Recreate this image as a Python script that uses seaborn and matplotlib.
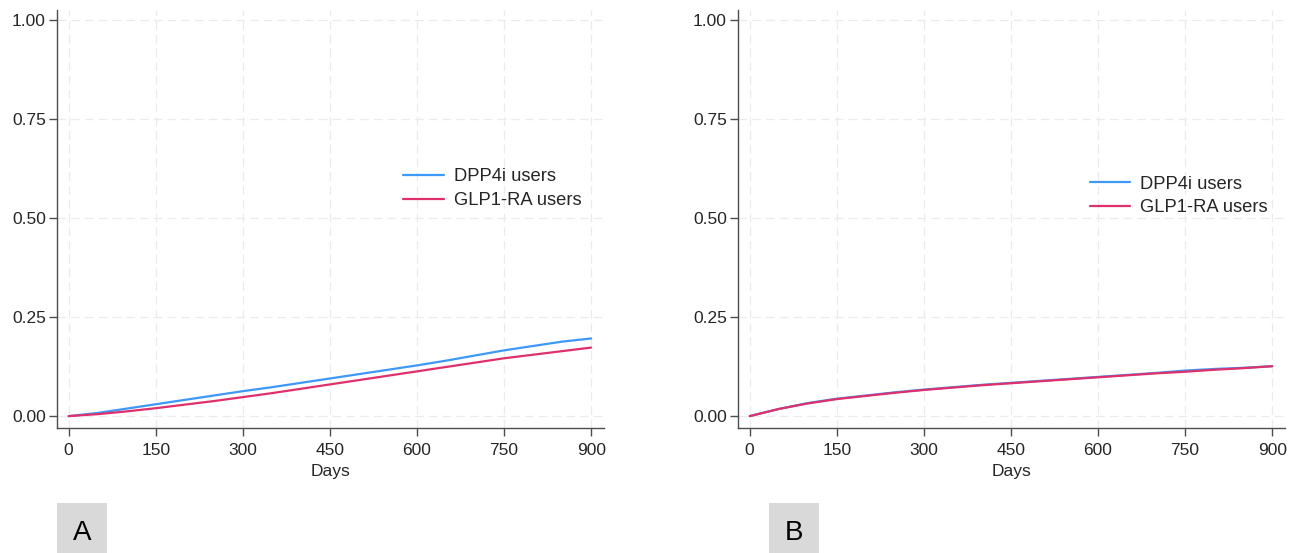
import pandas as pd
import numpy as np
import matplotlib
matplotlib.use('Agg')
import matplotlib.pyplot as plt
import seaborn as sns

########################### data #################################################

days = [0, 50, 100, 150, 200, 250, 300, 350, 400, 450, 500, 550, 600, 650, 700, 750, 800, 850, 900]

# panel A
a_dpp4 = [0.000, 0.008, 0.019, 0.030, 0.041, 0.052, 0.063, 0.073, 0.084, 0.095, 0.106, 0.117, 0.128,
          0.140, 0.153, 0.166, 0.177, 0.188, 0.196]
a_glp1 = [0.000, 0.005, 0.012, 0.020, 0.029, 0.038, 0.048, 0.058, 0.069, 0.080, 0.091, 0.102, 0.113,
          0.124, 0.135, 0.146, 0.155, 0.164, 0.173]

# panel B
b_dpp4 = [0.000, 0.018, 0.033, 0.044, 0.052, 0.060, 0.067, 0.073, 0.079, 0.084, 0.089, 0.094, 0.099,
          0.104, 0.109, 0.115, 0.119, 0.122, 0.126]
b_glp1 = [0.000, 0.018, 0.032, 0.043, 0.051, 0.059, 0.066, 0.072, 0.078, 0.083, 0.088, 0.093, 0.098,
          0.103, 0.108, 0.112, 0.117, 0.121, 0.126]

groups = ['DPP4i users', 'GLP1-RA users']
panel_labels = ['A', 'B']
x_ticks = [0, 150, 300, 450, 600, 750, 900]
y_ticks = [0.0, 0.25, 0.5, 0.75, 1.0]

colors = {'DPP4i users': '#3d98f7', 'GLP1-RA users': '#e0306b'}

sns.set_style('white')
plt.rcParams['font.family'] = ['Liberation Sans', 'DejaVu Sans']


def long_df(dpp4, glp1):
    df = pd.DataFrame({'Days': days * 2,
                       'value': dpp4 + glp1,
                       'group': [groups[0]] * len(days) + [groups[1]] * len(days)})
    return df


fig = plt.figure(figsize=(12.96, 5.53), dpi=100)

ax_a = fig.add_axes([0.044, 0.226, 0.422, 0.756])
ax_b = fig.add_axes([0.5695, 0.226, 0.422, 0.756])

panels = [(ax_a, long_df(a_dpp4, a_glp1), (0.633, 0.572)),
          (ax_b, long_df(b_dpp4, b_glp1), (0.643, 0.555))]

for ax, df, leg_pos in panels:
    sns.lineplot(data=df, x='Days', y='value', hue='group', palette=colors,
                 linewidth=1.6, ax=ax)
    ax.set_xlim(-20, 922)
    ax.set_ylim(-0.03, 1.025)
    ax.set_xticks(x_ticks)
    ax.set_yticks(y_ticks)
    ax.set_yticklabels(['%.2f' % v for v in y_ticks])
    ax.set_xlabel('Days', fontsize=12.5, labelpad=4)
    ax.set_ylabel('')
    ax.grid(True, linestyle=(0, (7, 4)), color='#ebebeb', linewidth=0.9)
    ax.set_axisbelow(True)
    for side in ['top', 'right']:
        ax.spines[side].set_visible(False)
    for side in ['left', 'bottom']:
        ax.spines[side].set_color('#4d4d4d')
        ax.spines[side].set_linewidth(1.0)
    ax.tick_params(axis='both', direction='out', length=6, width=1, color='#4d4d4d',
                   labelsize=12.5, left=True, bottom=True)
    ax.tick_params(axis='x', pad=5)
    ax.tick_params(axis='y', pad=2)
    ax.legend(title=None, frameon=False, fontsize=13.2, loc='center left',
              bbox_to_anchor=leg_pos, borderaxespad=0, borderpad=0,
              handlelength=2.2, handletextpad=0.55, labelspacing=0.37)

# grey letter boxes under the panels
for left, lab in zip([0.044, 0.5935], panel_labels):
    box = fig.add_axes([left, 0.0, 0.0386, 0.09])
    box.set_facecolor('#d9d9d9')
    box.set_xticks([])
    box.set_yticks([])
    for s in box.spines.values():
        s.set_visible(False)
    box.text(0.5, 0.4, lab, ha='center', va='center', fontsize=20, color='black',
             transform=box.transAxes)

fig.savefig('out.png', dpi=100)
